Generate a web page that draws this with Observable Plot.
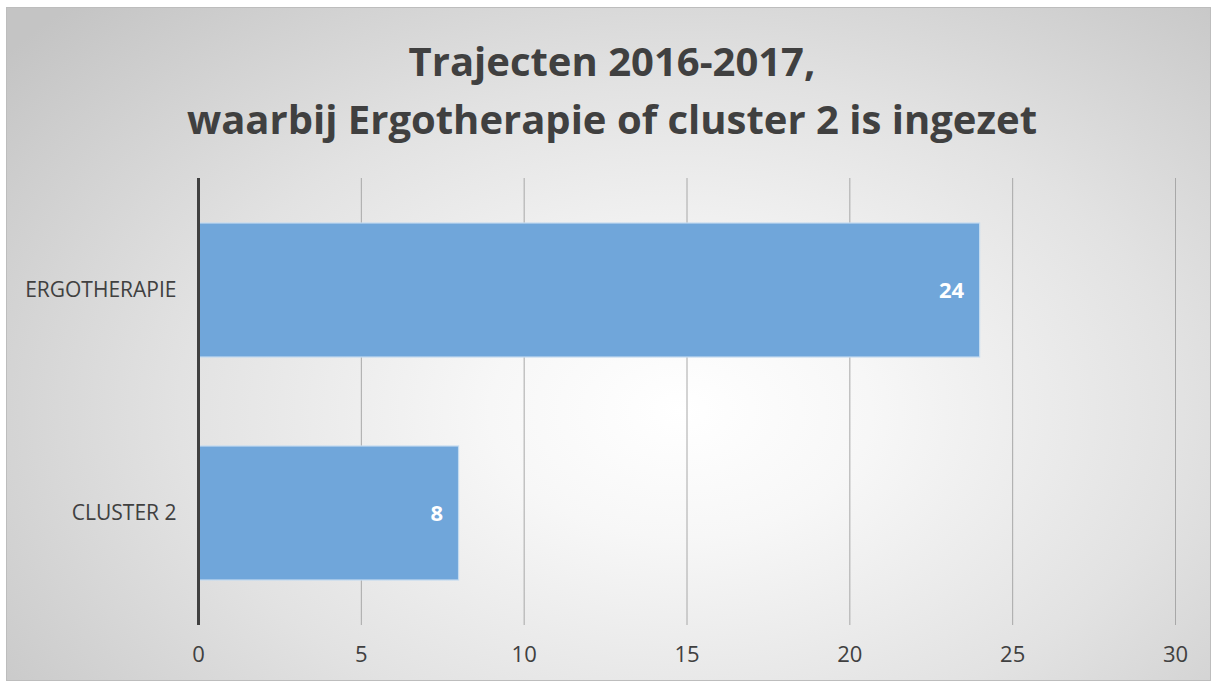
<!DOCTYPE html>
<html>
<head>
<meta charset="utf-8">
<script src="https://cdn.jsdelivr.net/npm/d3@7"></script>
<script src="https://cdn.jsdelivr.net/npm/@observablehq/plot@0.6"></script>
<style>
  html, body { margin: 0; padding: 0; background: #ffffff; }
  #page { position: relative; width: 1213px; height: 682px; overflow: hidden; font-family: "Open Sans", sans-serif; }
  #frame { position: absolute; left: 6px; top: 7px; width: 1203px; height: 672px; border: 1px solid #bdbdbd;
    background: radial-gradient(ellipse 72% 85% at 56% 60%, #ffffff 0%, #f7f7f7 22%, #e2e2e2 58%, #c4c4c4 100%); }
  #title { position: absolute; left: 0; top: 32px; width: 1224px; text-align: center; color: #404040;
    font-weight: 700; font-size: 40px; line-height: 58px; }
  #chart { position: absolute; left: 0; top: 160px; }
</style>
</head>
<body>
<div id="page">
  <div id="frame"></div>
  <div id="title">Trajecten 2016-2017,<br>waarbij Ergotherapie of cluster 2 is ingezet</div>
  <div id="chart"></div>
</div>
<script>
const categories = ["ERGOTHERAPIE", "CLUSTER 2"];
const values = [24, 8];
const xTicks = [0, 5, 10, 15, 20, 25, 30];

const data = categories.map((c, i) => ({category: c, value: values[i]}));

const chart = Plot.plot({
  width: 1213,
  height: 520,
  marginTop: 18,
  marginBottom: 55,
  marginLeft: 198,
  marginRight: 38,
  style: {background: "transparent", fontFamily: "Open Sans, sans-serif", color: "#404040"},
  x: {domain: [0, 30], ticks: xTicks, label: null},
  y: {domain: categories, paddingInner: 0.4, paddingOuter: 0.2, label: null},
  marks: [
    Plot.ruleX(xTicks.filter(t => t !== 0), {stroke: "#a8a8a8", strokeWidth: 1}),
    Plot.axisX({ticks: xTicks, tickSize: 0, tickPadding: 21, fontSize: 22, fill: "#404040", label: null}),
    Plot.axisY({tickSize: 0, tickPadding: 22, fontSize: 21, fill: "#404040", label: null}),
    Plot.barX(data, {x: "value", y: "category", fill: "#70a6da", stroke: "#c3dbf0", strokeWidth: 1.2}),
    Plot.ruleX([0], {stroke: "#404040", strokeWidth: 3}),
    Plot.text(data, {x: "value", y: "category", text: d => String(d.value), textAnchor: "end", dx: -16,
      fill: "#ffffff", fontWeight: 700, fontSize: 22})
  ]
});
document.getElementById("chart").appendChild(chart);
</script>
</body>
</html>
